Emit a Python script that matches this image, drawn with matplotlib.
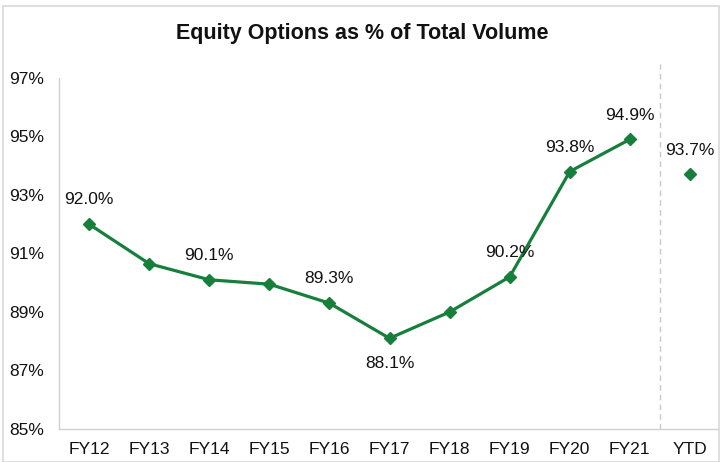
import matplotlib
matplotlib.use("Agg")
import matplotlib.pyplot as plt
from matplotlib.patches import Rectangle

plt.rcParams['font.family'] = ['Liberation Sans', 'DejaVu Sans']

categories = ["FY12", "FY13", "FY14", "FY15", "FY16", "FY17",
              "FY18", "FY19", "FY20", "FY21", "YTD"]
fy_values = [92.0, 90.65, 90.1, 89.95, 89.3, 88.1, 89.0, 90.2, 93.8, 94.9]
ytd_value = 93.7
y_ticks = [85, 87, 89, 91, 93, 95, 97]

# which points carry a label, and whether it sits above or below
label_pos = {0: "above", 2: "above", 4: "above", 5: "below",
             7: "above", 8: "above", 9: "above"}

green = "#177F3C"
grey = "#D0D0D0"

fig = plt.figure(figsize=(7.2, 4.62), dpi=100)
ax = fig.add_axes([0.082, 0.0714, 0.918, 0.760])

x_fy = list(range(len(fy_values)))
x_ytd = len(fy_values)

ax.plot(x_fy, fy_values, color=green, lw=2.3, marker="D", ms=6,
        markeredgecolor=green, zorder=3)
ax.plot([x_ytd], [ytd_value], color=green, lw=0, marker="D", ms=6,
        zorder=3)

for i, pos in label_pos.items():
    v = fy_values[i]
    off = 17.5 if pos == "above" else -18
    ax.annotate(f"{v:.1f}%", (i, v), xytext=(0, off), textcoords="offset points",
                ha="center", va="center", fontsize=12.5, color="#111111")
ax.annotate(f"{ytd_value:.1f}%", (x_ytd, ytd_value), xytext=(0, 17.5),
            textcoords="offset points", ha="center", va="center",
            fontsize=12.5, color="#111111")

# separator between fiscal years and year-to-date
ax.axvline(len(fy_values) - 0.5, ymin=0, ymax=1.04, color="#C8C8C8", lw=1,
           ls=(0, (4, 3)), clip_on=False)

ax.set_xlim(-0.5, len(categories) - 0.5)
ax.set_ylim(85, 97)
ax.set_xticks(range(len(categories)))
ax.set_xticklabels(categories, fontsize=12.5)
ax.set_yticks(y_ticks)
ax.set_yticklabels([f"{t}%" for t in y_ticks], fontsize=12.5)
ax.tick_params(axis="both", length=0, colors="#111111")
ax.tick_params(axis="x", pad=9)
ax.tick_params(axis="y", pad=11)

for s in ["top", "right"]:
    ax.spines[s].set_visible(False)
for s in ["left", "bottom"]:
    ax.spines[s].set_color(grey)
    ax.spines[s].set_linewidth(1)

fig.text(0.503, 0.928, "Equity Options as % of Total Volume", ha="center",
         va="center", fontsize=15.5, fontweight="bold", color="#111111")

fig.patches.append(Rectangle((0.004, 0.0), 0.994, 0.988, transform=fig.transFigure,
                             fill=False, edgecolor="#D9D9D9", lw=1.2))

fig.savefig("out.png", dpi=100)
